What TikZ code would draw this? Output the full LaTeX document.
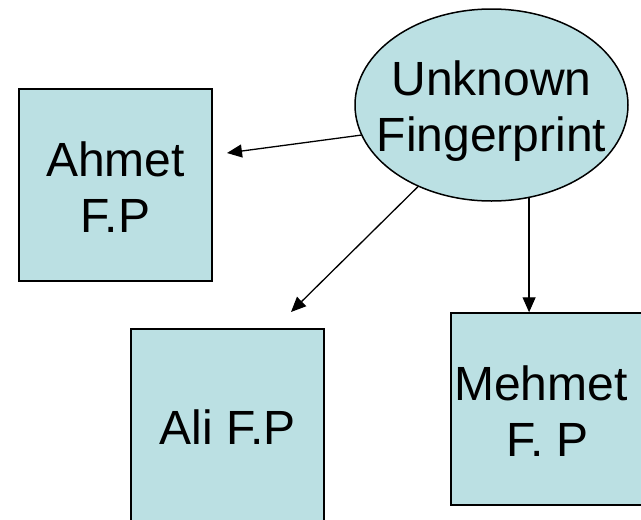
\documentclass[tikz,border=0pt]{standalone}
\usepackage{fontspec}
\setmainfont{Liberation Sans}
\usetikzlibrary{arrows.meta,shapes.geometric}
\definecolor{boxfill}{RGB}{187,224,227}
\begin{document}
\begin{tikzpicture}[x=1pt,y=-1pt,
  every node/.style={font=\fontsize{48}{56}\selectfont, align=center, inner sep=0pt},
  fpbox/.style={draw=black, line width=1.5pt, fill=boxfill, minimum width=193pt, minimum height=192pt},
  query/.style={ellipse, draw=black, line width=1.5pt, fill=boxfill, inner xsep=-30pt, inner ysep=-10pt,
    minimum width=273pt, minimum height=192pt},
  arr/.style={draw=black, line width=1.3pt, -{Triangle[length=15pt,width=13pt]}}]
  \useasboundingbox (0,0) rectangle (641,520);
  \clip (0,0) rectangle (641,520);

  % query print and the stored prints
  \node[query] (u) at (491.5,105) {\rule{0pt}{46pt}Unknown\\Fingerprint};
  \node[fpbox] (ahmet) at (115.5,185) {\rule{0pt}{38pt}Ahmet\\F.P};
  \node[fpbox] (ali) at (227.5,425) {\rule{0pt}{38pt}Ali F.P};
  \node[fpbox] (mehmet) at (547.5,409) {\rule{0pt}{38pt}Mehmet\hspace*{0.28em}\\F. P};

  % arrow tips stop short of the boxes
  \coordinate (ahmettip) at (227,153);
  \coordinate (alitip) at (291,312);

  \draw[arr] (u.193.3) -- (ahmettip);
  \draw[arr] (u.228.1) -- (alitip);
  \draw[arr] (u.292.8) -- (u.292.8 |- mehmet.north);
\end{tikzpicture}
\end{document}
